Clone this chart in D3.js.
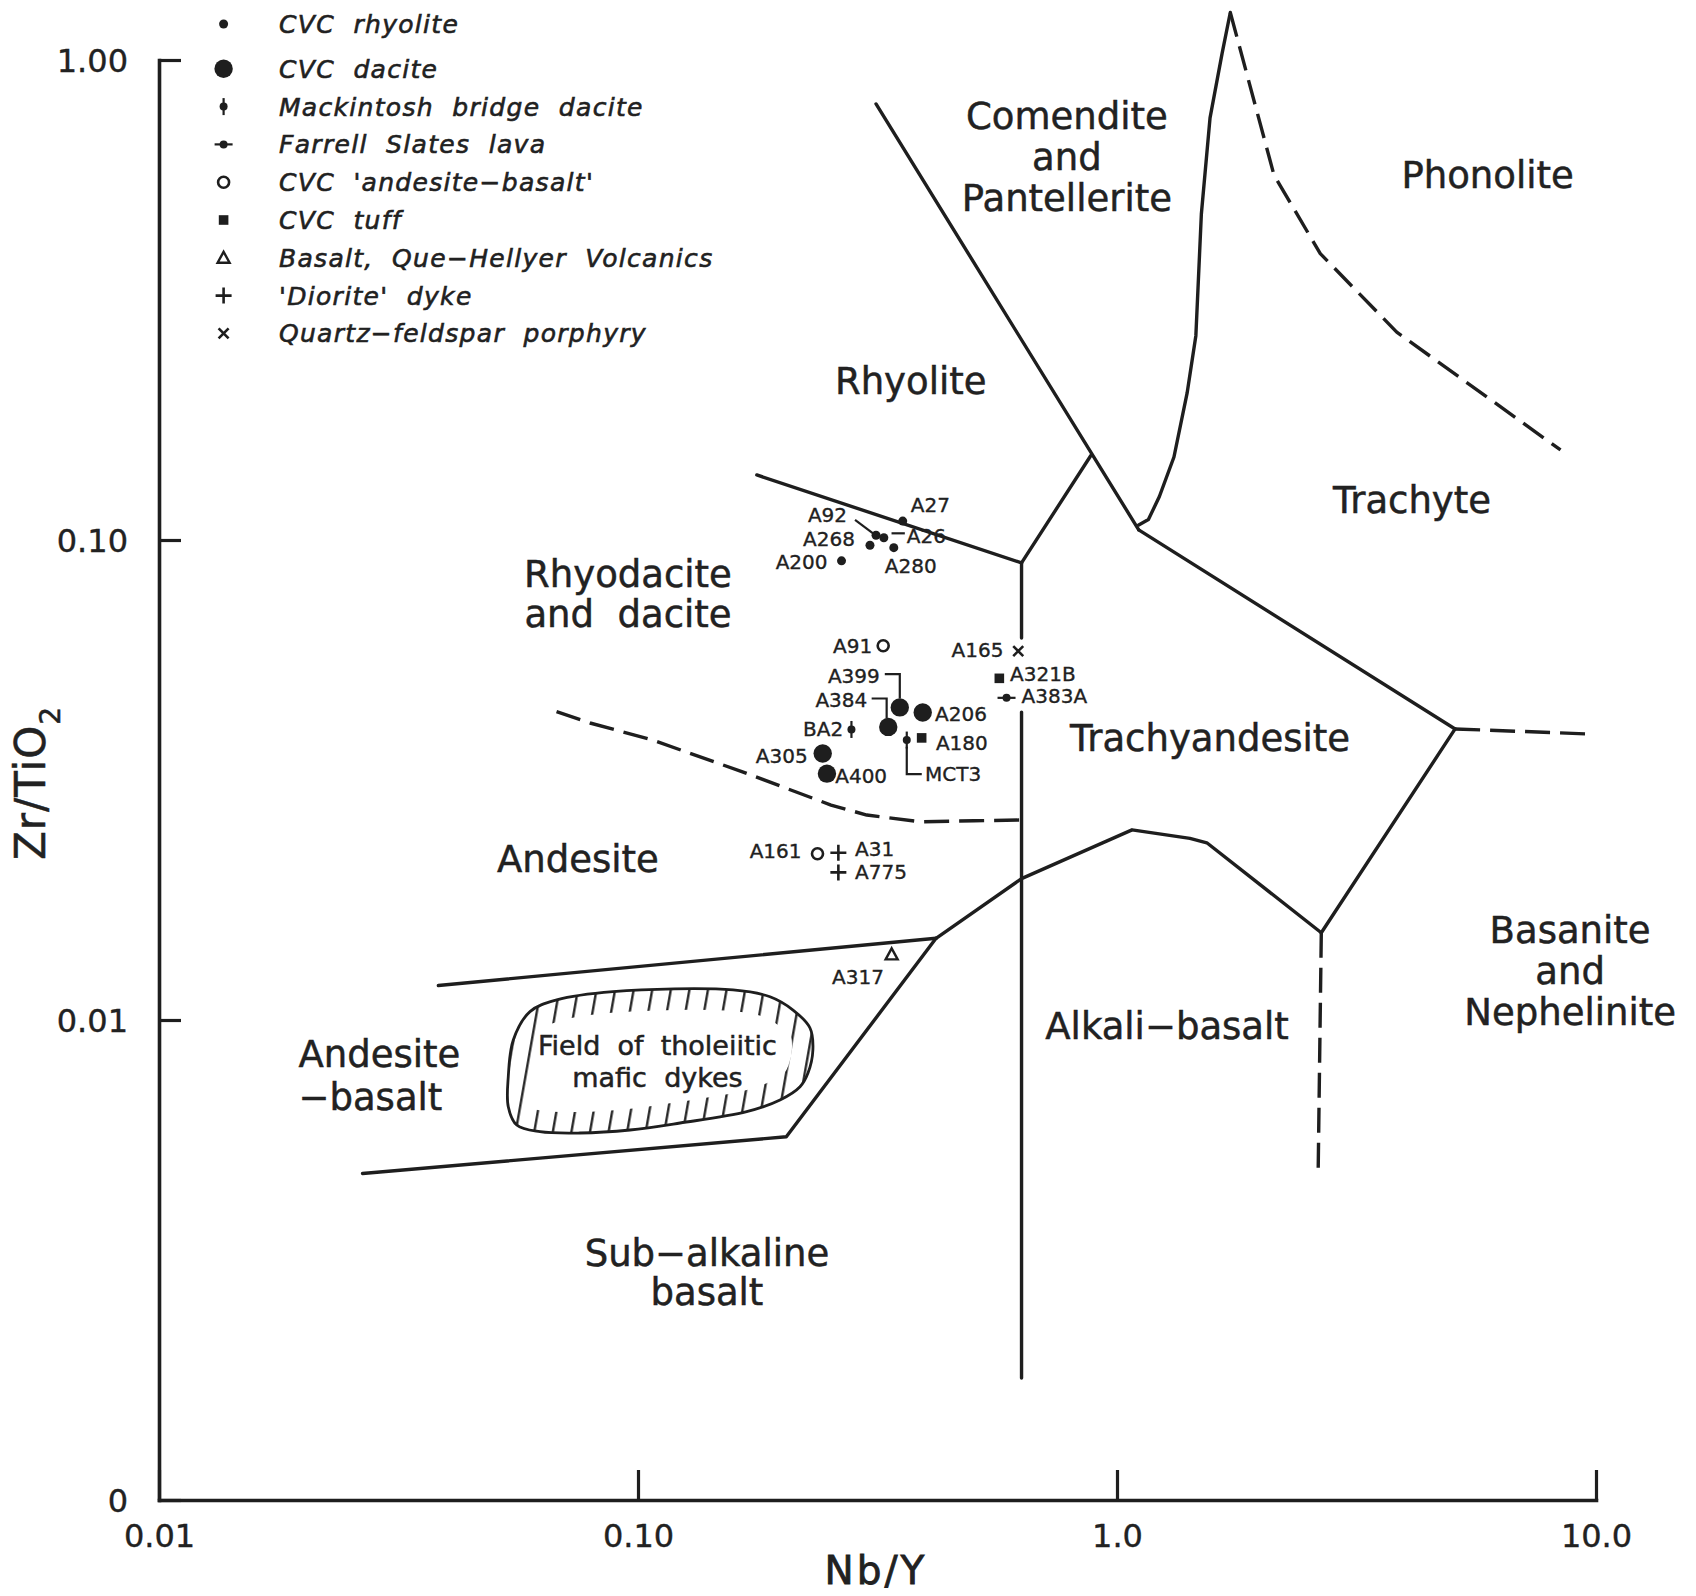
<!DOCTYPE html>
<html><head><meta charset="utf-8">
<script src="https://cdn.jsdelivr.net/npm/d3@7"></script>
<style>
html,body{margin:0;padding:0;background:#fff;}
svg{display:block;background:#fff;}
text{font-family:"DejaVu Sans",sans-serif;fill:#222;white-space:pre;}
</style></head><body>
<svg id="chart" width="1696" height="1596"></svg>
<script>
// ---------- DATA (Nb/Y, Zr/TiO2) ----------
const xTickValues = [0.01, 0.1, 1, 10];
const xTickLabels = ["0.01", "0.10", "1.0", "10.0"];
const yTickValues = [0.001, 0.01, 0.1, 1];
const yTickLabels = ["0", "0.01", "0.10", "1.00"];

// field boundaries, solid
const comenditeRhyolite = [[0.314, 0.810], [1.11, 0.105]];
const rhyoliteTrachyte = [[0.632, 0.0896], [0.882, 0.150]];
const rhyodaciteTop = [[0.177, 0.1366], [0.632, 0.0896]];
const verticalUpper = [[0.632, 0.0896], [0.632, 0.0625]];
const verticalLower = [[0.632, 0.0438], [0.632, 0.001795]];
const trachyteTrachyandesite = [[1.11, 0.105], [5.08, 0.0404]];
const trachyandesiteBasanite = [[5.08, 0.0404], [2.67, 0.0152]];
const alkaliBasaltTop = [[0.419, 0.0148], [0.632, 0.0197], [1.075, 0.0249], [1.42, 0.0239], [1.54, 0.0234], [2.67, 0.0152]];
const andesiteBasaltTop = [[0.0383, 0.0118], [0.419, 0.0148]];
const andesiteBasaltBottom = [[0.0266, 0.00479], [0.204, 0.00571], [0.419, 0.0148]];
const comenditePhonolite = [[1.11, 0.1075], [1.163, 0.1103], [1.226, 0.1232], [1.315, 0.1489], [1.401, 0.2025], [1.461, 0.2665], [1.500, 0.4771], [1.564, 0.7576], [1.657, 1.031], [1.724, 1.256]];
// field boundaries, dashed
const phonoliteTrachyte = [[1.724, 1.256], [2.127, 0.5759], [2.657, 0.395], [3.837, 0.2711], [8.432, 0.154]];
const trachyandesiteRight = [[5.08, 0.0404], [9.90, 0.0394]];
const basaniteAlkali = [[2.67, 0.0152], [2.63, 0.00483]];
const rhyodaciteAndesite = [[0.0676, 0.04388], [0.0794, 0.04157], [0.1072, 0.03831], [0.1647, 0.03292], [0.204, 0.03039], [0.2529, 0.02804], [0.3004, 0.02673], [0.3888, 0.02588], [0.5029, 0.02601], [0.632, 0.0261]];
// field of tholeiitic mafic dykes (outline)
const tholeiiticField = [[0.0595, 0.01041], [0.06766, 0.01101], [0.08867, 0.01146], [0.1579, 0.01155], [0.1886, 0.01118], [0.2107, 0.01049], [0.2286, 0.009624], [0.2318, 0.00866], [0.2264, 0.007755], [0.2179, 0.007261], [0.1979, 0.006813], [0.1686, 0.006442], [0.1224, 0.006101], [0.09623, 0.0059], [0.07565, 0.005815], [0.06242, 0.005852], [0.05582, 0.006043], [0.0536, 0.006598], [0.0536, 0.007617], [0.05491, 0.009086]];

// samples [name, Nb/Y, Zr/TiO2]
const cvcRhyolite = [["A27", 0.357, 0.1095], ["A92", 0.314, 0.1023], ["A26", 0.326, 0.1011], ["A268", 0.305, 0.0975], ["A280", 0.342, 0.0964], ["A200", 0.266, 0.0905]];
const cvcDacite = [["A399", 0.352, 0.0448], ["A384", 0.333, 0.0408], ["A206", 0.393, 0.0437], ["A305", 0.243, 0.0359], ["A400", 0.248, 0.0326]];
const mackintoshDacite = [["BA2", 0.279, 0.0403], ["MCT3", 0.364, 0.0383]];
const farrellSlates = [["A383A", 0.588, 0.0469]];
const cvcAndesiteBasalt = [["A91", 0.325, 0.0602], ["A161", 0.237, 0.0222]];
const cvcTuff = [["A321B", 0.568, 0.0515], ["A180", 0.391, 0.0387]];
const queHellyerBasalt = [["A317", 0.3385, 0.0137]];
const dioriteDyke = [["A31", 0.262, 0.0223], ["A775", 0.262, 0.0203]];
const qfPorphyry = [["A165", 0.622, 0.0587]];

const legendNames = ["CVC rhyolite", "CVC dacite", "Mackintosh bridge dacite", "Farrell Slates lava", "CVC 'andesite\u2212basalt'", "CVC tuff", "Basalt, Que\u2212Hellyer Volcanics", "'Diorite' dyke", "Quartz\u2212feldspar porphyry"];

const regionNames = [
  {lines: ["Comendite", "and", "Pantellerite"], at: [0.786, 0.718]},
  {lines: ["Phonolite"], at: [5.94, 0.540]},
  {lines: ["Rhyolite"], at: [0.371, 0.2014]},
  {lines: ["Trachyte"], at: [4.13, 0.1141]},
  {lines: ["Rhyodacite", "and dacite"], at: [0.0953, 0.0798]},
  {lines: ["Trachyandesite"], at: [1.564, 0.0364]},
  {lines: ["Andesite"], at: [0.0749, 0.0203]},
  {lines: ["Andesite", "\u2212basalt"], at: [0.01955, 0.00798]},
  {lines: ["Sub\u2212alkaline", "basalt"], at: [0.1393, 0.00307]},
  {lines: ["Alkali\u2212basalt"], at: [1.272, 0.00913]},
  {lines: ["Basanite", "and", "Nephelinite"], at: [8.83, 0.01447]}
];
const fieldName = {lines: ["Field of tholeiitic", "mafic dykes"], at: [0.1098, 0.008454]};

// ---------- LAYOUT (px) ----------
const W = 1696, H = 1596;
const INK = "#1e1e1e";
const labelLayout = {
  A27: [8, -9, "start"], A92: [-29, -13, "end"], A26: [23, 5, "start"], A268: [-15, 1, "end"],
  A280: [-9, 25, "start"], A200: [-14, 8.6, "end"], A91: [-11, 7.6, "end"], A399: [-20, -24.6, "end"],
  A384: [-21, -19.4, "end"], A206: [12.3, 8, "start"], BA2: [-8.3, 6.4, "end"], MCT3: [18.3, 40.7, "start"],
  A180: [14.3, 12.3, "start"], A305: [-15, 9, "end"], A400: [8.3, 9.3, "start"], A165: [-14.8, 5.7, "end"],
  A321B: [10.7, 2.4, "start"], A383A: [15, 5.6, "start"], A161: [-16, 4.3, "end"], A31: [16.7, 3.3, "start"],
  A775: [16.7, 7, "start"], A317: [-7.7, 30, "end"]
};
const leaderLayout = {
  A92: [[-21, -15.3], [-3, -2]],
  A26: [[7.7, -4.4], [21, -4.4]],
  A399: [[-15, -33.3], [0, -33.3], [0, -9]],
  A384: [[-16.6, -28.4], [-1.6, -28.4], [-1.6, -8.5]],
  MCT3: [[0, 6.7], [0, 34], [15, 34]]
};
const regionLayout = {
  "Comendite": {gap: 41}, "Rhyodacite": {gap: 39.7}, "Basanite": {gap: 41},
  "Sub\u2212alkaline": {gap: 39}, "Andesite|2": {gap: 43, anchor: "start"}
};

// ---------- SCALES ----------
const svg = d3.select("#chart");
svg.append("rect").attr("width", W).attr("height", H).attr("fill", "#fff");
const x = d3.scaleLog().domain([0.01, 10]).range([159, 1596]);
const y = d3.scaleLog().domain([0.001, 1]).range([1500, 60]);

const line = d3.line().x(d => x(d[0])).y(d => y(d[1]));
const gLines = svg.append("g").attr("fill", "none").attr("stroke", INK).attr("stroke-width", 3.4).attr("stroke-linejoin", "round").attr("stroke-linecap", "round");

[comenditeRhyolite, rhyoliteTrachyte, rhyodaciteTop, verticalUpper, verticalLower, trachyteTrachyandesite,
 trachyandesiteBasanite, alkaliBasaltTop, andesiteBasaltTop, andesiteBasaltBottom, comenditePhonolite]
  .forEach(s => gLines.append("path").attr("d", line(s)));
[phonoliteTrachyte, trachyandesiteRight, basaniteAlkali, rhyodaciteAndesite]
  .forEach(s => gLines.append("path").attr("d", line(s)).attr("stroke-dasharray", "25 10").attr("stroke-linecap", "butt"));

// tholeiitic field with hatching
const defs = svg.append("defs");
const pat = defs.append("pattern").attr("id", "hatch").attr("patternUnits", "userSpaceOnUse")
  .attr("width", 18.3).attr("height", 60).attr("patternTransform", "rotate(10)");
pat.append("line").attr("x1", 9).attr("y1", -5).attr("x2", 9).attr("y2", 65).attr("stroke", INK).attr("stroke-width", 2.3);
const closedLine = d3.line().x(d => x(d[0])).y(d => y(d[1])).curve(d3.curveCatmullRomClosed.alpha(0.5));
const fieldD = closedLine(tholeiiticField);
defs.append("clipPath").attr("id", "fieldClip").append("path").attr("d", fieldD);
svg.append("path").attr("d", fieldD).attr("fill", "none").attr("stroke", "url(#hatch)").attr("stroke-width", 42).attr("clip-path", "url(#fieldClip)");
svg.append("path").attr("d", fieldD).attr("fill", "none").attr("stroke", INK).attr("stroke-width", 2.8);

// ---------- AXES ----------
const xAxis = d3.axisBottom(x).tickValues(xTickValues).tickFormat((d, i) => xTickLabels[i])
  .tickSizeInner(-30).tickSizeOuter(0).tickPadding(24);
const gx = svg.append("g").attr("transform", "translate(0,1500)").call(xAxis);
const yAxis = d3.axisLeft(y).tickValues(yTickValues).tickFormat((d, i) => yTickLabels[i])
  .tickSizeInner(-22).tickSizeOuter(0).tickPadding(31);
const gy = svg.append("g").attr("transform", "translate(159,0)").call(yAxis);
[gx, gy].forEach(g => {
  g.attr("font-family", null).attr("font-size", null);
  g.select(".domain").attr("stroke", INK).attr("stroke-width", 3.6).attr("stroke-linecap", "square");
  g.selectAll(".tick line").attr("stroke", INK).attr("stroke-width", 3.2);
  g.selectAll(".tick text").attr("fill", INK).style("font-size", "32px")
    .style("stroke", INK).style("stroke-width", "0.4px");
});
gy.selectAll(".tick text").attr("dy", "0.36em");

svg.append("text").attr("x", 876).attr("y", 1584).attr("text-anchor", "middle")
  .style("font-size", "39px").style("letter-spacing", "3px").style("stroke", INK).style("stroke-width", "0.8px").text("Nb/Y");
const yt = svg.append("text").attr("transform", "translate(45,783) rotate(-90)").attr("text-anchor", "middle")
  .style("font-size", "42px").style("letter-spacing", "1px").style("stroke", INK).style("stroke-width", "0.5px");
yt.append("tspan").text("Zr/TiO");
yt.append("tspan").attr("dy", 15).style("font-size", "28px").text("2");

// ---------- REGION NAMES ----------
const seen = {};
regionNames.forEach(r => {
  const key0 = r.lines[0];
  seen[key0] = (seen[key0] || 0) + 1;
  const lay = regionLayout[key0 + (seen[key0] > 1 ? "|" + seen[key0] : "")] || regionLayout[key0] || {};
  const gap = lay.gap || 40;
  const t = svg.append("text").attr("text-anchor", lay.anchor || "middle").style("font-size", "37px")
    .style("stroke", INK).style("stroke-width", "0.5px").attr("xml:space", "preserve");
  r.lines.forEach((ln, i) => {
    t.append("tspan").attr("x", x(r.at[0])).attr("y", y(r.at[1]) + i * gap).text(ln.replace(/ /g, "  "));
  });
});
{
  const t = svg.append("text").attr("text-anchor", "middle").style("font-size", "27px")
    .style("stroke", INK).style("stroke-width", "0.5px").attr("xml:space", "preserve");
  fieldName.lines.forEach((ln, i) => {
    t.append("tspan").attr("x", x(fieldName.at[0])).attr("y", y(fieldName.at[1]) + i * 31.7).text(ln.replace(/ /g, "  "));
  });
}

// ---------- SYMBOLS ----------
function symbol(g, type, cx, cy) {
  const s = g.append("g").attr("transform", `translate(${cx},${cy})`);
  switch (type) {
    case "rhyolite": s.append("circle").attr("r", 4.5).attr("fill", INK); break;
    case "dacite": s.append("circle").attr("r", 9.2).attr("fill", INK); break;
    case "mackintosh":
      s.append("circle").attr("r", 4).attr("fill", INK);
      s.append("line").attr("y1", -8.5).attr("y2", 8.5).attr("stroke", INK).attr("stroke-width", 2.2); break;
    case "farrell":
      s.append("circle").attr("r", 4).attr("fill", INK);
      s.append("line").attr("x1", -9).attr("x2", 9).attr("stroke", INK).attr("stroke-width", 2.2); break;
    case "andbas": s.append("circle").attr("r", 5.5).attr("fill", "none").attr("stroke", INK).attr("stroke-width", 2.6); break;
    case "tuff": s.append("rect").attr("x", -4.8).attr("y", -4.8).attr("width", 9.6).attr("height", 9.6).attr("fill", INK); break;
    case "triangle": s.append("path").attr("d", "M0,-6 L6,5 L-6,5 Z").attr("fill", "none").attr("stroke", INK).attr("stroke-width", 2.4).attr("stroke-linejoin", "miter"); break;
    case "plus": s.append("path").attr("d", "M-8,0H8M0,-8V8").attr("stroke", INK).attr("stroke-width", 2.6); break;
    case "cross": s.append("path").attr("d", "M-5,-5L5,5M-5,5L5,-5").attr("stroke", INK).attr("stroke-width", 2.6); break;
  }
}
const seriesList = [
  [cvcRhyolite, "rhyolite"], [cvcDacite, "dacite"], [mackintoshDacite, "mackintosh"], [farrellSlates, "farrell"],
  [cvcAndesiteBasalt, "andbas"], [cvcTuff, "tuff"], [queHellyerBasalt, "triangle"], [dioriteDyke, "plus"], [qfPorphyry, "cross"]
];
const gPts = svg.append("g");
const gLead = svg.append("g").attr("fill", "none").attr("stroke", INK).attr("stroke-width", 2.2);
seriesList.forEach(([arr, type]) => {
  arr.forEach(([name, nb, zr]) => {
    const px = x(nb), py = y(zr);
    symbol(gPts, type, px, py);
    const L = labelLayout[name];
    gPts.append("text").attr("x", px + L[0]).attr("y", py + L[1]).attr("text-anchor", L[2])
      .style("font-size", "20px").style("stroke", INK).style("stroke-width", "0.35px").text(name);
    if (leaderLayout[name]) {
      gLead.append("path").attr("d", d3.line()(leaderLayout[name].map(p => [px + p[0], py + p[1]])));
    }
  });
});

// ---------- LEGEND ----------
const gLeg = svg.append("g");
legendNames.forEach((nm, i) => {
  const cy = 24 + i * 37.8 + (i > 0 ? 7 : 0);
  symbol(gLeg, seriesList[i][1], 223.6, cy);
  gLeg.append("text").attr("x", 279).attr("y", cy + 9).attr("xml:space", "preserve")
    .style("font-size", "25px").style("font-style", "italic").style("letter-spacing", "1.3px")
    .style("stroke", INK).style("stroke-width", "0.6px")
    .text(nm.replace(/ /g, "  "));
});
</script>
</body></html>
